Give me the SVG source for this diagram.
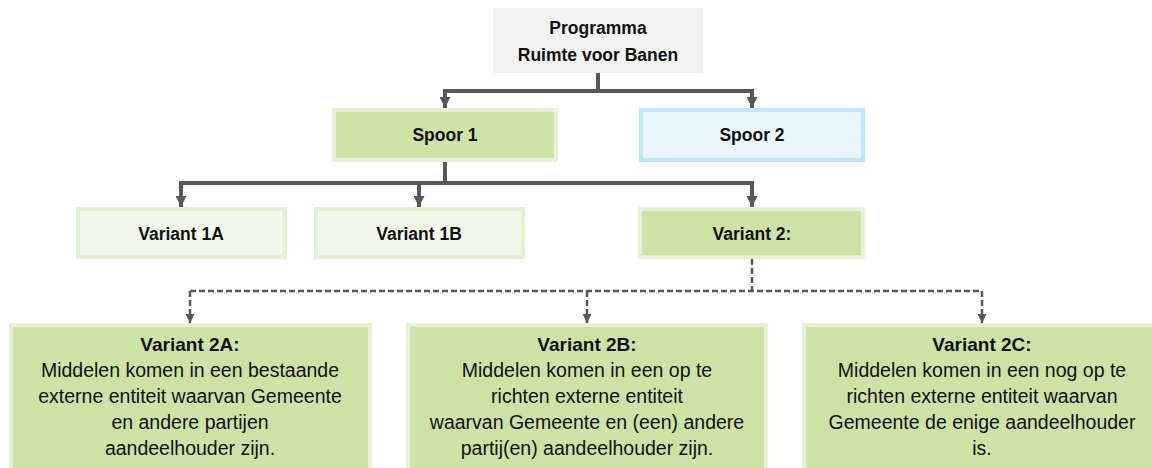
<svg xmlns="http://www.w3.org/2000/svg" width="1152" height="468" viewBox="0 0 1152 468">
<style>
text{font-family:"Liberation Sans",Arial,sans-serif;fill:#111;text-anchor:middle}
.b{font-weight:bold;font-size:17.5px}
.t{font-weight:bold;font-size:19px}
.r{font-size:19.5px}
.top{fill:#f2f2f2}
.g{fill:#cde3a6;stroke:#e6f1d8;stroke-width:4}
.lg{fill:#f1f8e9;stroke:#e4f0d2;stroke-width:4}
.bl{fill:#e9f6fd;stroke:#bfe7fa;stroke-width:4}
.solid{fill:none;stroke:#55585c;stroke-width:4}
.dash{fill:none;stroke:#55585c;stroke-width:2.5;stroke-dasharray:6 3}
</style>
<defs>
<marker id="ah" viewBox="0 0 10 10" refX="10" refY="5" markerUnits="userSpaceOnUse" markerWidth="11" markerHeight="11" orient="auto">
<path d="M0,0 L10,5 L0,10 Z" fill="#55585c"/>
</marker>
<marker id="ahs" viewBox="0 0 10 10" refX="10" refY="5" markerUnits="userSpaceOnUse" markerWidth="9" markerHeight="9" orient="auto">
<path d="M0,0 L10,5 L0,10 Z" fill="#55585c"/>
</marker>
</defs>
<g id="connectors">
<path class="solid" d="M598,73 V91"/>
<path class="solid" d="M445,91 H752"/>
<path class="solid" d="M445,89 V108" marker-end="url(#ah)"/>
<path class="solid" d="M752,89 V108" marker-end="url(#ah)"/>
<path class="solid" d="M445,162 V183"/>
<path class="solid" d="M181,183 H752"/>
<path class="solid" d="M181,181 V207" marker-end="url(#ah)"/>
<path class="solid" d="M419,181 V207" marker-end="url(#ah)"/>
<path class="solid" d="M752,181 V207" marker-end="url(#ah)"/>
<path class="dash" d="M752,259 V291"/>
<path class="dash" d="M190,291 H982"/>
<path class="dash" d="M190,291 V323" marker-end="url(#ahs)"/>
<path class="dash" d="M587,291 V323" marker-end="url(#ahs)"/>
<path class="dash" d="M982,291 V323" marker-end="url(#ahs)"/>
</g>
<g id="programma">
<rect class="top" x="493" y="8" width="210" height="65"/>
<text class="b" x="598" y="34">Programma</text>
<text class="b" x="598" y="61">Ruimte voor Banen</text>
</g>
<g id="spoor1">
<rect class="g" x="334" y="110" width="222" height="50"/>
<text class="b" x="445" y="141">Spoor 1</text>
</g>
<g id="spoor2">
<rect class="bl" x="641" y="110" width="222" height="50"/>
<text class="b" x="752" y="141">Spoor 2</text>
</g>
<g id="variant1a">
<rect class="lg" x="78" y="209" width="207" height="48"/>
<text class="b" x="181" y="240">Variant 1A</text>
</g>
<g id="variant1b">
<rect class="lg" x="316" y="209" width="207" height="48"/>
<text class="b" x="419" y="240">Variant 1B</text>
</g>
<g id="variant2">
<rect class="g" x="640" y="209" width="223" height="48"/>
<text class="b" x="752" y="240">Variant 2:</text>
</g>
<g id="variant2a">
<rect class="g" x="11" y="325" width="359" height="160"/>
<text class="t" x="190" y="351">Variant 2A:</text>
<text class="r" x="190" y="377">Middelen komen in een bestaande</text>
<text class="r" x="190" y="403">externe entiteit waarvan Gemeente</text>
<text class="r" x="190" y="429">en andere partijen</text>
<text class="r" x="190" y="455">aandeelhouder zijn.</text>
</g>
<g id="variant2b">
<rect class="g" x="408" y="325" width="358" height="160"/>
<text class="t" x="587" y="351">Variant 2B:</text>
<text class="r" x="587" y="377">Middelen komen in een op te</text>
<text class="r" x="587" y="403">richten externe entiteit</text>
<text class="r" x="587" y="429">waarvan Gemeente en (een) andere</text>
<text class="r" x="587" y="455">partij(en) aandeelhouder zijn.</text>
</g>
<g id="variant2c">
<rect class="g" x="804" y="325" width="358" height="160"/>
<text class="t" x="982" y="351">Variant 2C:</text>
<text class="r" x="982" y="377">Middelen komen in een nog op te</text>
<text class="r" x="982" y="403">richten externe entiteit waarvan</text>
<text class="r" x="982" y="429">Gemeente de enige aandeelhouder</text>
<text class="r" x="982" y="455">is.</text>
</g>
</svg>
